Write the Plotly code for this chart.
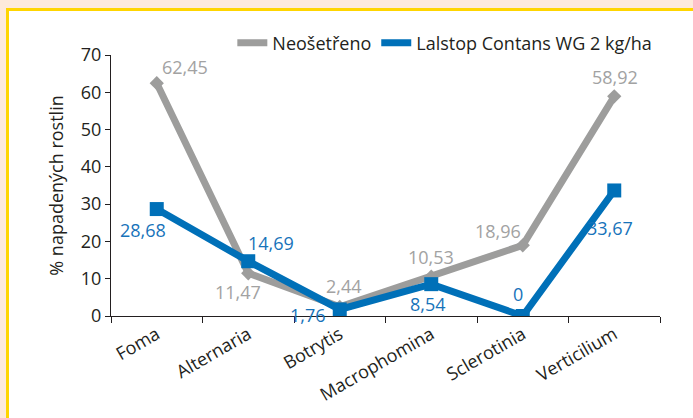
import plotly.graph_objects as go

categories = ["Foma", "Alternaria", "Botrytis", "Macrophomina", "Sclerotinia", "Verticilium"]
untreated = [62.45, 11.47, 2.44, 10.53, 18.96, 58.92]
treated = [28.68, 14.69, 1.76, 8.54, 0, 33.67]
untreated_labels = ["62,45", "11,47", "2,44", "10,53", "18,96", "58,92"]
treated_labels = ["28,68", "14,69", "1,76", "8,54", "0", "33,67"]
series_names = ["Neošetřeno", "Lalstop Contans WG 2 kg/ha"]
y_title = "% napadených rostlin"

GRAY = "#9d9d9c"
BLUE = "#0070b8"
GRAY_TXT = "#a2a2a2"
BLUE_TXT = "#1773ba"
DARK = "#231f20"
PEACH = "#fdeadb"
YELLOW = "#ffd500"
FONT = "Open Sans"
FS = 18

# label offsets (pixels) relative to the point
gray_off = [(28, -16), (-10, 19), (4, -21), (0, -20), (-25, -14), (1, -19)]
blue_off = [(-14, 21), (23, -18), (-32, 6), (-3, 20), (-5, -22), (-4, 38)]

fig = go.Figure()
fig.add_trace(go.Scatter(x=categories, y=untreated, mode="lines+markers",
                         line=dict(color=GRAY, width=7),
                         marker=dict(symbol="diamond", size=11, color=GRAY),
                         showlegend=False, hoverinfo="skip"))
fig.add_trace(go.Scatter(x=categories, y=treated, mode="lines+markers",
                         line=dict(color=BLUE, width=7),
                         marker=dict(symbol="square", size=14, color=BLUE),
                         showlegend=False, hoverinfo="skip"))
# legend-only traces
fig.add_trace(go.Scatter(x=[None], y=[None], mode="lines", name=series_names[0],
                         line=dict(color=GRAY, width=7)))
fig.add_trace(go.Scatter(x=[None], y=[None], mode="lines", name=series_names[1],
                         line=dict(color=BLUE, width=7)))

annotations = []
for c, v, t, (dx, dy) in zip(categories, untreated, untreated_labels, gray_off):
    annotations.append(dict(x=c, y=v, text=t, showarrow=False, xshift=dx, yshift=-dy,
                            font=dict(family=FONT, size=FS, color=GRAY_TXT)))
for c, v, t, (dx, dy) in zip(categories, treated, treated_labels, blue_off):
    annotations.append(dict(x=c, y=v, text=t, showarrow=False, xshift=dx, yshift=-dy,
                            font=dict(family=FONT, size=FS, color=BLUE_TXT)))

# frame helpers: convert page pixels to paper coords (plot area x 111..660, y 55..316)
def px(x):
    return (x - 111) / 549.0

def py(y):
    return (316 - y) / 261.0

shapes = [
    dict(type="rect", xref="paper", yref="paper", x0=px(0), x1=px(693), y0=py(8), y1=py(0),
         fillcolor=PEACH, line=dict(width=0), layer="below"),
    dict(type="rect", xref="paper", yref="paper", x0=px(0), x1=px(6), y0=py(418), y1=py(8),
         fillcolor=PEACH, line=dict(width=0), layer="below"),
    dict(type="rect", xref="paper", yref="paper", x0=px(6), x1=px(693), y0=py(11), y1=py(8),
         fillcolor=YELLOW, line=dict(width=0), layer="below"),
    dict(type="rect", xref="paper", yref="paper", x0=px(6), x1=px(9), y0=py(418), y1=py(8),
         fillcolor=YELLOW, line=dict(width=0), layer="below"),
]

fig.update_layout(
    width=693, height=418,
    margin=dict(l=111, r=33, t=55, b=102, autoexpand=False),
    paper_bgcolor="white",
    plot_bgcolor="rgba(0,0,0,0)",
    font=dict(family=FONT, size=FS, color=DARK),
    showlegend=True,
    legend=dict(orientation="h", x=0.221, xanchor="left", y=1.046, yanchor="middle",
                font=dict(family=FONT, size=FS, color=DARK),
                bgcolor="rgba(0,0,0,0)", itemwidth=30, tracegroupgap=0),
    annotations=annotations,
    shapes=shapes,
    xaxis=dict(type="category", range=[-0.5, 5.5], showline=True, linecolor=DARK, linewidth=1,
               ticks="outside", tickson="boundaries", ticklen=6, tickcolor=DARK,
               tickangle=-30, showgrid=False, zeroline=False, automargin=False,
               tickfont=dict(family=FONT, size=FS, color=DARK)),
    yaxis=dict(range=[0, 70], dtick=10, showline=True, linecolor=DARK, linewidth=1,
               ticks="outside", ticklen=5, tickcolor=DARK, showgrid=False, zeroline=False,
               automargin=False,
               tickfont=dict(family=FONT, size=FS, color=DARK),
               title=dict(text=y_title, font=dict(family=FONT, size=FS, color=DARK), standoff=12)),
)
fig.write_html("out.html", config={"displayModeBar": False},
               post_script="document.body.style.margin='0';")
